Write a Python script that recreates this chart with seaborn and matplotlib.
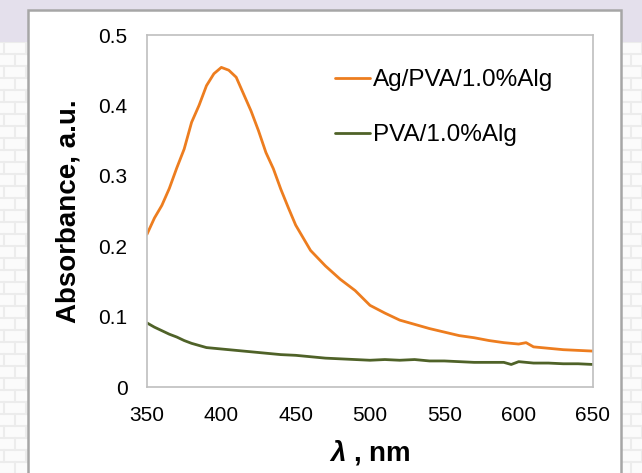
import numpy as np
import pandas as pd
import matplotlib
matplotlib.use("Agg")
import matplotlib.pyplot as plt
from matplotlib.patches import Rectangle
from matplotlib.lines import Line2D
import seaborn as sns

# spectra
wavelength_ag = [350, 355, 360, 365, 370, 375, 380, 385, 390, 395, 400, 405, 410, 415,
                 420, 425, 430, 435, 440, 445, 450, 460, 470, 480, 490, 500, 510, 520,
                 530, 540, 550, 560, 570, 580, 590, 600, 605, 610, 620, 630, 640, 650]
absorb_ag = [0.217, 0.240, 0.258, 0.282, 0.311, 0.338, 0.376, 0.400, 0.428, 0.445, 0.454,
             0.450, 0.440, 0.416, 0.392, 0.364, 0.333, 0.310, 0.281, 0.255, 0.230, 0.194,
             0.172, 0.153, 0.137, 0.116, 0.105, 0.095, 0.089, 0.083, 0.078, 0.073, 0.070,
             0.066, 0.063, 0.061, 0.063, 0.057, 0.055, 0.053, 0.052, 0.051]

wavelength_pva = [350, 355, 360, 365, 370, 375, 380, 385, 390, 400, 410, 420, 430, 440,
                  450, 460, 470, 480, 490, 500, 510, 520, 530, 540, 550, 560, 570, 580,
                  590, 595, 600, 610, 620, 630, 640, 650]
absorb_pva = [0.091, 0.085, 0.080, 0.075, 0.071, 0.066, 0.062, 0.059, 0.056, 0.054, 0.052,
              0.050, 0.048, 0.046, 0.045, 0.043, 0.041, 0.040, 0.039, 0.038, 0.039, 0.038,
              0.039, 0.037, 0.037, 0.036, 0.035, 0.035, 0.035, 0.032, 0.036, 0.034, 0.034,
              0.033, 0.033, 0.032]

labels = ["Ag/PVA/1.0%Alg", "PVA/1.0%Alg"]
colors = {"Ag/PVA/1.0%Alg": "#ED7D1F", "PVA/1.0%Alg": "#4F6228"}
x_ticks = [350, 400, 450, 500, 550, 600, 650]
y_ticks = [0, 0.1, 0.2, 0.3, 0.4, 0.5]
y_ticklabels = ["0", "0.1", "0.2", "0.3", "0.4", "0.5"]
y_minor = [0.05, 0.15, 0.25, 0.35, 0.45]

df = pd.concat([
    pd.DataFrame({"wl": wavelength_ag, "A": absorb_ag, "sample": labels[0]}),
    pd.DataFrame({"wl": wavelength_pva, "A": absorb_pva, "sample": labels[1]}),
])

sns.set_style("white")
plt.rcParams["font.family"] = ["Liberation Sans", "DejaVu Sans"]
plt.rcParams["mathtext.fontset"] = "custom"
plt.rcParams["mathtext.it"] = "Liberation Sans:italic:bold"
plt.rcParams["mathtext.rm"] = "Liberation Sans:bold"

W, H = 642, 473
fig = plt.figure(figsize=(W / 100, H / 100), dpi=100)
fig.patch.set_facecolor("#fbfbfb")

# slide background: lavender band on top, brick pattern below
def px(x, y, w, h, **kw):
    fig.patches.append(Rectangle((x / W, 1 - (y + h) / H), w / W, h / H,
                                 transform=fig.transFigure, **kw))

brick_c = "#ececec"
row_h, brick_w = 12, 22
for i, y in enumerate(range(42, H + row_h, row_h)):
    fig.lines.append(Line2D([0, 1], [1 - y / H] * 2, transform=fig.transFigure,
                            color=brick_c, lw=1.5, zorder=0))
    off = 0 if i % 2 == 0 else brick_w / 2
    for x in np.arange(4 + off - brick_w, W + brick_w, brick_w):
        fig.lines.append(Line2D([x / W] * 2, [1 - y / H, 1 - (y + row_h) / H],
                                transform=fig.transFigure, color=brick_c, lw=1.5, zorder=0))
px(0, 0, W, 42, facecolor="#e4e0ec", edgecolor="none", zorder=1)
px(28, 10, 593, 480, facecolor="white", edgecolor="#a6a6a6", lw=1.8, zorder=2)

ax = fig.add_axes([147 / W, 1 - 387 / H, 446 / W, 352 / H], zorder=3)
sns.lineplot(data=df, x="wl", y="A", hue="sample", palette=colors, ax=ax,
             linewidth=2.0, legend=False)

ax.set_xlim(350, 650)
ax.set_ylim(0, 0.5)
ax.set_xticks(x_ticks)
ax.set_yticks(y_ticks)
ax.set_yticklabels(y_ticklabels)
ax.set_yticks(y_minor, minor=True)
ax.tick_params(axis="both", which="both", direction="in", length=5, width=1,
               color="#bfbfbf", labelsize=15, labelcolor="black")
ax.tick_params(axis="y", pad=14)
ax.tick_params(axis="x", pad=14)
for s in ax.spines.values():
    s.set_color("#bfbfbf")
    s.set_linewidth(1.2)

ax.set_xlabel(r"$\lambda$ , nm", fontsize=20, fontweight="bold", labelpad=9,
              color="black")
ax.set_ylabel("Absorbance, a.u.", fontsize=20, fontweight="bold", labelpad=12,
              color="black")

handles = [Line2D([], [], color=colors[l], lw=2.0) for l in labels]
ax.legend(handles, labels, loc="upper left", bbox_to_anchor=(0.40, 0.93),
          frameon=False, fontsize=17.5, handlelength=1.45, handletextpad=0.1,
          labelspacing=1.35, borderaxespad=0, labelcolor="black")

fig.savefig("out.png", dpi=100, facecolor=fig.get_facecolor())
